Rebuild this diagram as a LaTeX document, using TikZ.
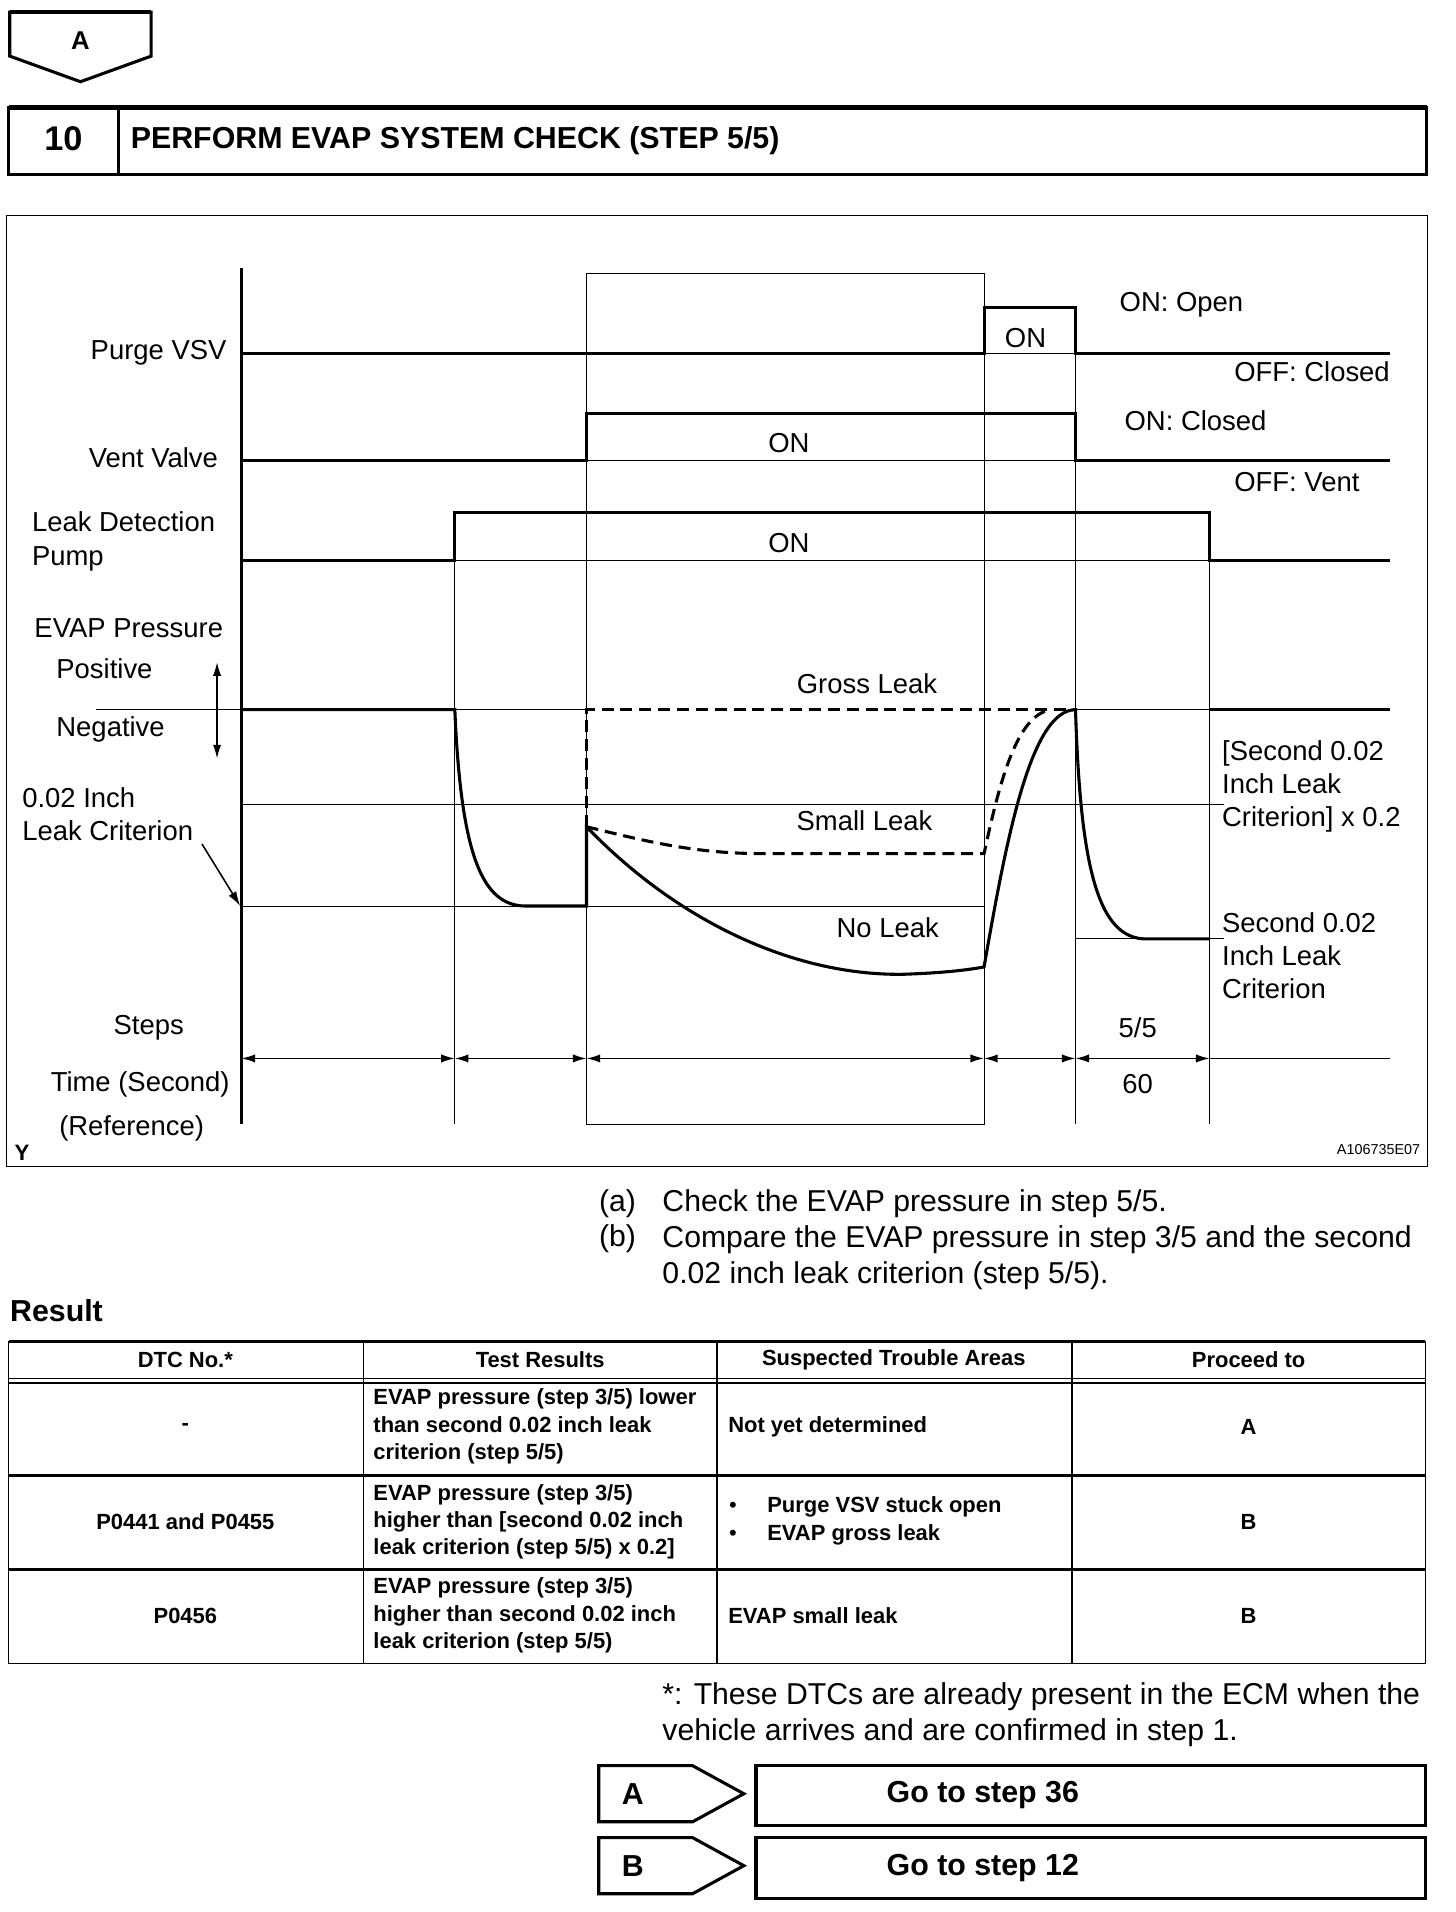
\documentclass[tikz,border=0pt]{standalone}
\usepackage{fontspec}
\setmainfont{Liberation Sans}
\usetikzlibrary{arrows.meta}

\begin{document}
\begin{tikzpicture}[x=0.025cm, y=-0.025cm, every node/.style={inner sep=0pt},
  thinln/.style={line width=0.6pt},
  sig/.style={line width=1.8pt, line join=miter},
  dsh/.style={line width=1.8pt, dash pattern=on 7pt off 4pt},
  dim/.style={line width=0.9pt, {Latex[length=2.8mm,width=1.7mm]}-{Latex[length=2.8mm,width=1.7mm]}},
  ptr/.style={line width=0.9pt, -{Latex[length=3mm,width=1.8mm]}},
  lbl/.style={font=\fontsize{16}{19.3}\selectfont},
  txt/.style={font=\fontsize{17.6}{21}\selectfont},
  cell/.style={font=\fontsize{12.8}{16}\selectfont\bfseries},
  badge/.style={line width=1.8pt, line join=miter},
  tblthick/.style={line width=1.5pt},
  tblthin/.style={line width=0.8pt}]
\useasboundingbox (0,0) rectangle (1194,1568);

% header
\draw[badge] (8,10) -- (124,10) -- (124,46) -- (66,67) -- (8,46) -- cycle;
\draw[line width=2.6pt] (8,10) -- (124,10);
\node[font=\fontsize{15}{18}\selectfont\bfseries] (topA) at (66,33) {A};
\draw[line width=1.8pt] (7,88) rectangle (1170,143);
\draw[line width=2.6pt] (7,88) -- (1170,88);
\draw[line width=1.5pt] (97,88) -- (97,143);
\node[font=\fontsize{20}{24}\selectfont\bfseries] (stepno) at (52,114) {10};
\node[font=\fontsize{17.7}{21}\selectfont\bfseries, anchor=west] (title) at (107,115) {PERFORM EVAP SYSTEM CHECK (STEP 5/5)};

% timing chart
\draw[thinln] (5,177) rectangle (1171,957);
\draw[sig] (198,220) -- (198,922);
\draw[thinln] (481,224) rectangle (807,922);
\draw[thinln] (373,420) -- (373,922);
\draw[thinln] (882,252) -- (882,922);
\draw[thinln] (992,420) -- (992,922);
\draw[thinln] (807,290) -- (882,290);
\draw[thinln] (481,378) -- (882,378);
\draw[thinln] (373,460) -- (992,460);
\draw[thinln] (79,582) -- (481,582);
\draw[thinln] (882,582) -- (992,582);
\draw[thinln] (198,660) -- (1004,660);
\draw[thinln] (198,743) -- (807,743);
\draw[thinln] (882,770) -- (1004,770);

\draw[sig] (198,290) -- (807,290) -- (807,252) -- (882,252) -- (882,290) -- (1140,290);
\draw[sig] (198,378) -- (481,378) -- (481,339) -- (882,339) -- (882,378) -- (1140,378);
\draw[sig] (198,460) -- (373,460) -- (373,420) -- (992,420) -- (992,460) -- (1140,460);

\draw[dsh] (481,678) -- (481,582) -- (882,582);
\draw[dsh] (481,678) .. controls (530,690) and (570,700) .. (625,700) -- (807,700)
  .. controls (820,640) and (834,586) .. (862,582);
\draw[sig] (198,582) -- (373,582) .. controls (378,700) and (395,743) .. (431,743) -- (481,743) -- (481,678)
  .. controls (555,755) and (650,800) .. (740,799) .. controls (770,798) and (790,796) .. (807,793)
  .. controls (825,690) and (845,582) .. (882,582)
  .. controls (886,710) and (900,770) .. (940,770) -- (992,770);
\draw[sig] (992,582) -- (1140,582);

\node[lbl, anchor=east] (purge) at (186,289) {Purge VSV};
\node[lbl, anchor=east] (vent) at (179,375) {Vent Valve};
\node[lbl, anchor=west, align=left] (pump) at (26,444) {Leak Detection\\Pump};
\node[lbl, anchor=west] (evap) at (28,515) {EVAP Pressure};
\node[lbl, anchor=west] (positive) at (46,548) {Positive};
\node[lbl, anchor=west] (negative) at (46,598) {Negative};
\node[lbl, anchor=west, align=left] (crit) at (18,668) {0.02 Inch\\Leak Criterion};
\node[lbl] (onpurge) at (841,277) {ON};
\node[lbl] (onvent) at (647,363) {ON};
\node[lbl] (onpump) at (647,445) {ON};
\node[lbl, anchor=west] (open) at (918,250) {ON: Open};
\node[lbl, anchor=east] (closed) at (1140,305) {OFF: Closed};
\node[lbl, anchor=west] (onclosed) at (922,345) {ON: Closed};
\node[lbl, anchor=west] (offvent) at (1012,395) {OFF: Vent};
\node[lbl] (gross) at (711,561) {Gross Leak};
\node[lbl] (small) at (709,673) {Small Leak};
\node[lbl] (noleak) at (728,761) {No Leak};
\node[lbl, anchor=west, align=left] (second2) at (1002,645) {[Second 0.02\\Inch Leak\\Criterion] x 0.2};
\node[lbl, anchor=west, align=left] (second) at (1002,784) {Second 0.02\\Inch Leak\\Criterion};
\node[lbl] (steps) at (122,843) {Steps};
\node[lbl] (time) at (115,889) {Time (Second)};
\node[lbl] (ref) at (108,925) {(Reference)};
\node[lbl] (step55) at (933,843) {5/5};
\node[lbl] (sixty) at (933,889) {60};
\node[font=\fontsize{13}{15}\selectfont\bfseries] (ymark) at (18,945) {Y};
\node[font=\fontsize{8.4}{10}\selectfont, anchor=east] (figno) at (1165,943) {A106735E07};

\coordinate (critpt) at (197,743);
\coordinate (pos) at (178,543);
\coordinate (neg) at (178,622);
\draw[ptr] ([shift={(7,2)}]crit.south east) -- (critpt);
\draw[dim] (pos) -- (neg);

\foreach \n/\x in {0/198, 1/373, 2/481, 3/807, 4/882, 5/992, 6/1140}
  \coordinate (d\n) at (\x,868);
\foreach \a/\b in {d0/d1, d1/d2, d2/d3, d3/d4, d4/d5}
  \draw[dim] (\a) -- (\b);
\draw[line width=0.9pt] (d5) -- (d6);

% instructions
\node[txt, anchor=west] (ia) at (491,987) {(a)};
\node[txt, anchor=west] (ta) at (543,987) {Check the EVAP pressure in step 5/5.};
\node[txt, anchor=west] (ib) at (491,1016) {(b)};
\node[txt, anchor=north west, align=left] (tb) at (543,1005) {Compare the EVAP pressure in step 3/5 and the second\\0.02 inch leak criterion (step 5/5).};
\node[font=\fontsize{17.7}{21}\selectfont\bfseries, anchor=west] (result) at (8,1075) {Result};

% result table
\draw[tblthin] (7,1100) rectangle (1169,1364);
\foreach \x in {298,588,879}
  \draw[tblthin] (\x,1100) -- (\x,1364);
\draw[tblthick] (7,1100) -- (1169,1100);
\draw[line width=1.1pt] (7,1130.5) -- (1169,1130.5);
\draw[line width=1.1pt] (7,1134.5) -- (1169,1134.5);
\draw[tblthick] (7,1210) -- (1169,1210);
\draw[tblthick] (7,1287) -- (1169,1287);

\node[cell] (hdtc) at (152,1115) {DTC No.*};
\node[cell] (htest) at (443,1115) {Test Results};
\node[cell] (harea) at (733,1115) {Suspected Trouble Areas};
\node[cell] (hgo) at (1024,1115) {Proceed to};

\node[cell] (dtc1) at (152,1170) {-};
\node[cell, anchor=west, align=left] (test1) at (306,1170) {EVAP pressure (step 3/5) lower\\than second 0.02 inch leak\\criterion (step 5/5)};
\node[cell, anchor=west] (area1) at (597,1170) {Not yet determined};
\node[cell] (go1) at (1024,1170) {A};

\node[cell] (dtc2) at (152,1248) {P0441 and P0455};
\node[cell, anchor=west, align=left] (test2) at (306,1248) {EVAP pressure (step 3/5)\\higher than [second 0.02 inch\\leak criterion (step 5/5) x 0.2]};
\node[cell, font=\fontsize{12.8}{16}\selectfont] (bul1) at (601,1236) {•};
\node[cell, anchor=west] (area2a) at (629,1236) {Purge VSV stuck open};
\node[cell, font=\fontsize{12.8}{16}\selectfont] (bul2) at (601,1259) {•};
\node[cell, anchor=west] (area2b) at (629,1259) {EVAP gross leak};
\node[cell] (go2) at (1024,1248) {B};

\node[cell] (dtc3) at (152,1325) {P0456};
\node[cell, anchor=west, align=left] (test3) at (306,1325) {EVAP pressure (step 3/5)\\higher than second 0.02 inch\\leak criterion (step 5/5)};
\node[cell, anchor=west] (area3) at (597,1325) {EVAP small leak};
\node[cell] (go3) at (1024,1325) {B};

\node[txt, anchor=north west, align=left] (note) at (543,1380) {*: These DTCs are already present in the ECM when the\\vehicle arrives and are confirmed in step 1.};

% go to boxes
\draw[badge] (491,1448) -- (568,1448) -- (610,1471) -- (568,1494) -- (491,1494) -- cycle;
\draw[badge] (491,1507) -- (568,1507) -- (610,1530) -- (568,1553) -- (491,1553) -- cycle;
\node[font=\fontsize{17.7}{21}\selectfont\bfseries] (bA) at (519,1471) {A};
\node[font=\fontsize{17.7}{21}\selectfont\bfseries] (bB) at (519,1530) {B};
\draw[line width=2pt] (620,1448) rectangle (1169,1497);
\draw[line width=2pt] (620,1507) rectangle (1169,1557);
\node[font=\fontsize{17.7}{21}\selectfont\bfseries] (go36) at (806,1472) {Go to step 36};
\node[font=\fontsize{17.7}{21}\selectfont\bfseries] (go12) at (806,1532) {Go to step 12};
\end{tikzpicture}
\end{document}
